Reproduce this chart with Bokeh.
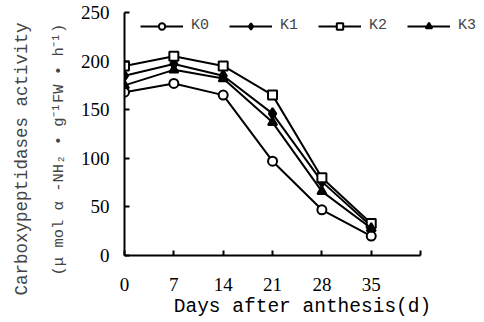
from bokeh.plotting import figure
from bokeh.models import Legend, LegendItem, Title, FixedTicker
from bokeh.embed import file_html
from bokeh.resources import INLINE

days = [0, 7, 14, 21, 28, 35]
k0 = [168, 177, 165, 97, 47, 20]
k1 = [185, 197, 185, 146, 76, 30]
k2 = [195, 205, 195, 165, 80, 33]
k3 = [175, 191, 182, 137, 66, 28]
x_ticks = [0, 7, 14, 21, 28, 35, 42]
y_ticks = [0, 50, 100, 150, 200, 250]

p = figure(width=484, height=322, output_backend="svg", toolbar_location=None,
           x_range=(0, 50.5), y_range=(0, 250),
           min_border_left=124, min_border_right=4, min_border_top=12, min_border_bottom=67)
p.outline_line_color = None
p.grid.visible = False

num_font = "Liberation Serif"
txt_font = "Liberation Mono"

for ax in (p.xaxis[0], p.yaxis[0]):
    ax.axis_line_width = 2
    ax.major_tick_in = 5
    ax.major_tick_out = 0
    ax.major_tick_line_width = 2
    ax.minor_tick_line_color = None
    ax.major_label_text_font = num_font
    ax.major_label_text_font_size = "19px"
    ax.major_label_text_color = "black"
    ax.axis_label_text_font = txt_font
    ax.axis_label_text_font_style = "normal"
    ax.axis_label_text_color = "black"

p.xaxis.ticker = FixedTicker(ticks=x_ticks)
p.xaxis.bounds = (0, 42)
p.xaxis.major_label_overrides = {42: ""}
p.xaxis.major_label_standoff = 22
p.xaxis.axis_label = "Days after anthesis(d)"
p.xaxis.axis_label_text_font_size = "19.5px"
p.xaxis.axis_label_standoff = 2

p.yaxis.ticker = FixedTicker(ticks=y_ticks)
p.yaxis.major_label_standoff = 15

t2 = Title(text="(μ mol α -NH₂ • g⁻¹FW • h⁻¹)", align="left", offset=-20, text_font=txt_font,
           text_font_size="15.5px", text_font_style="normal", standoff=20)
t1 = Title(text="Carboxypeptidases activity", align="left", offset=-40, text_font=txt_font,
           text_font_size="17.5px", text_font_style="normal", standoff=11)
p.add_layout(t2, "left")
p.add_layout(t1, "left")

series = [("K0", k0, "circle", "white"), ("K1", k1, "diamond", "black"),
          ("K2", k2, "square", "white"), ("K3", k3, "triangle", "black")]
items = []
for name, vals, marker, fill in series:
    ln = p.line(days, vals, line_color="black", line_width=2)
    sz = 11 if marker == "diamond" else 9
    mk = p.scatter(days, vals, marker=marker, size=sz, line_color="black",
                   line_width=2, fill_color=fill)
    items.append(LegendItem(label=name, renderers=[ln, mk]))

legend = Legend(items=items, orientation="horizontal", location=(16, 221),
                glyph_width=43, glyph_height=16, label_standoff=8, spacing=18,
                padding=0, margin=0, background_fill_alpha=0, border_line_color=None,
                label_text_font=txt_font, label_text_font_size="15px")
p.add_layout(legend, "center")

open("out.html", "w").write(file_html(p, INLINE))
